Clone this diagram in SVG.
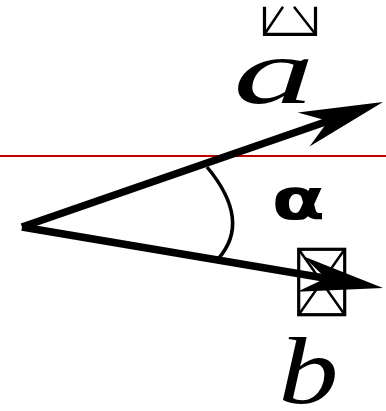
<svg xmlns="http://www.w3.org/2000/svg" width="386" height="411" viewBox="0 0 386 411">
<style>
.shaft{fill:none;stroke:#000;stroke-width:7.5;stroke-linejoin:bevel}
.arc{fill:none;stroke:#000;stroke-width:3.5}
.box{fill:none;stroke:#000;stroke-width:3.2}
.diag{fill:none;stroke:#000;stroke-width:2.5}
.lbl{font-family:"Liberation Serif",serif;font-style:italic;fill:#000}
.greek{font-family:"DejaVu Sans",sans-serif;font-weight:bold;fill:#000}
</style>
<defs>
<marker id="head" markerUnits="userSpaceOnUse" markerWidth="100" markerHeight="44" viewBox="-30 -22 100 44" refX="0" refY="0" orient="auto" overflow="visible">
<path d="M58,0 L-26,-18 L0,0 L-26,18 Z" fill="#000"/>
</marker>
</defs>
<rect width="386" height="411" fill="#fff"/>
<line id="ref-line" x1="0" y1="156" x2="386" y2="156" stroke="#c00000" stroke-width="2"/>
<g id="connectors">
<path class="shaft" d="M22,227 L328.2,121" marker-end="url(#head)"/>
<path class="shaft" d="M22,227 L325.8,278.3" marker-end="url(#head)"/>
<path class="arc" d="M207,167 Q252,221 218,259"/>
</g>
<g id="label-a">
<text class="lbl" transform="translate(274,103) scale(1.75,1)" font-size="93" text-anchor="middle">a</text>
<g id="box-a">
<path class="box" d="M264.5,6.7 V34.3 H315.5 V6.7"/>
<path class="diag" d="M264.5,34.3 L283,6.7 M315.5,34.3 L294,6.7"/>
</g>
</g>
<g id="label-alpha">
<text class="greek" transform="translate(298.5,219) scale(1.4,1)" font-size="56" text-anchor="middle">α</text>
</g>
<g id="label-b">
<g id="box-b">
<rect class="box" x="298.7" y="249.3" width="46" height="65.4"/>
<path class="diag" d="M298.7,249.3 L344.7,314.7 M344.7,249.3 L298.7,314.7"/>
</g>
<text class="lbl" transform="translate(308.5,403) scale(1.25,1)" font-size="96" text-anchor="middle">b</text>
</g>
</svg>
